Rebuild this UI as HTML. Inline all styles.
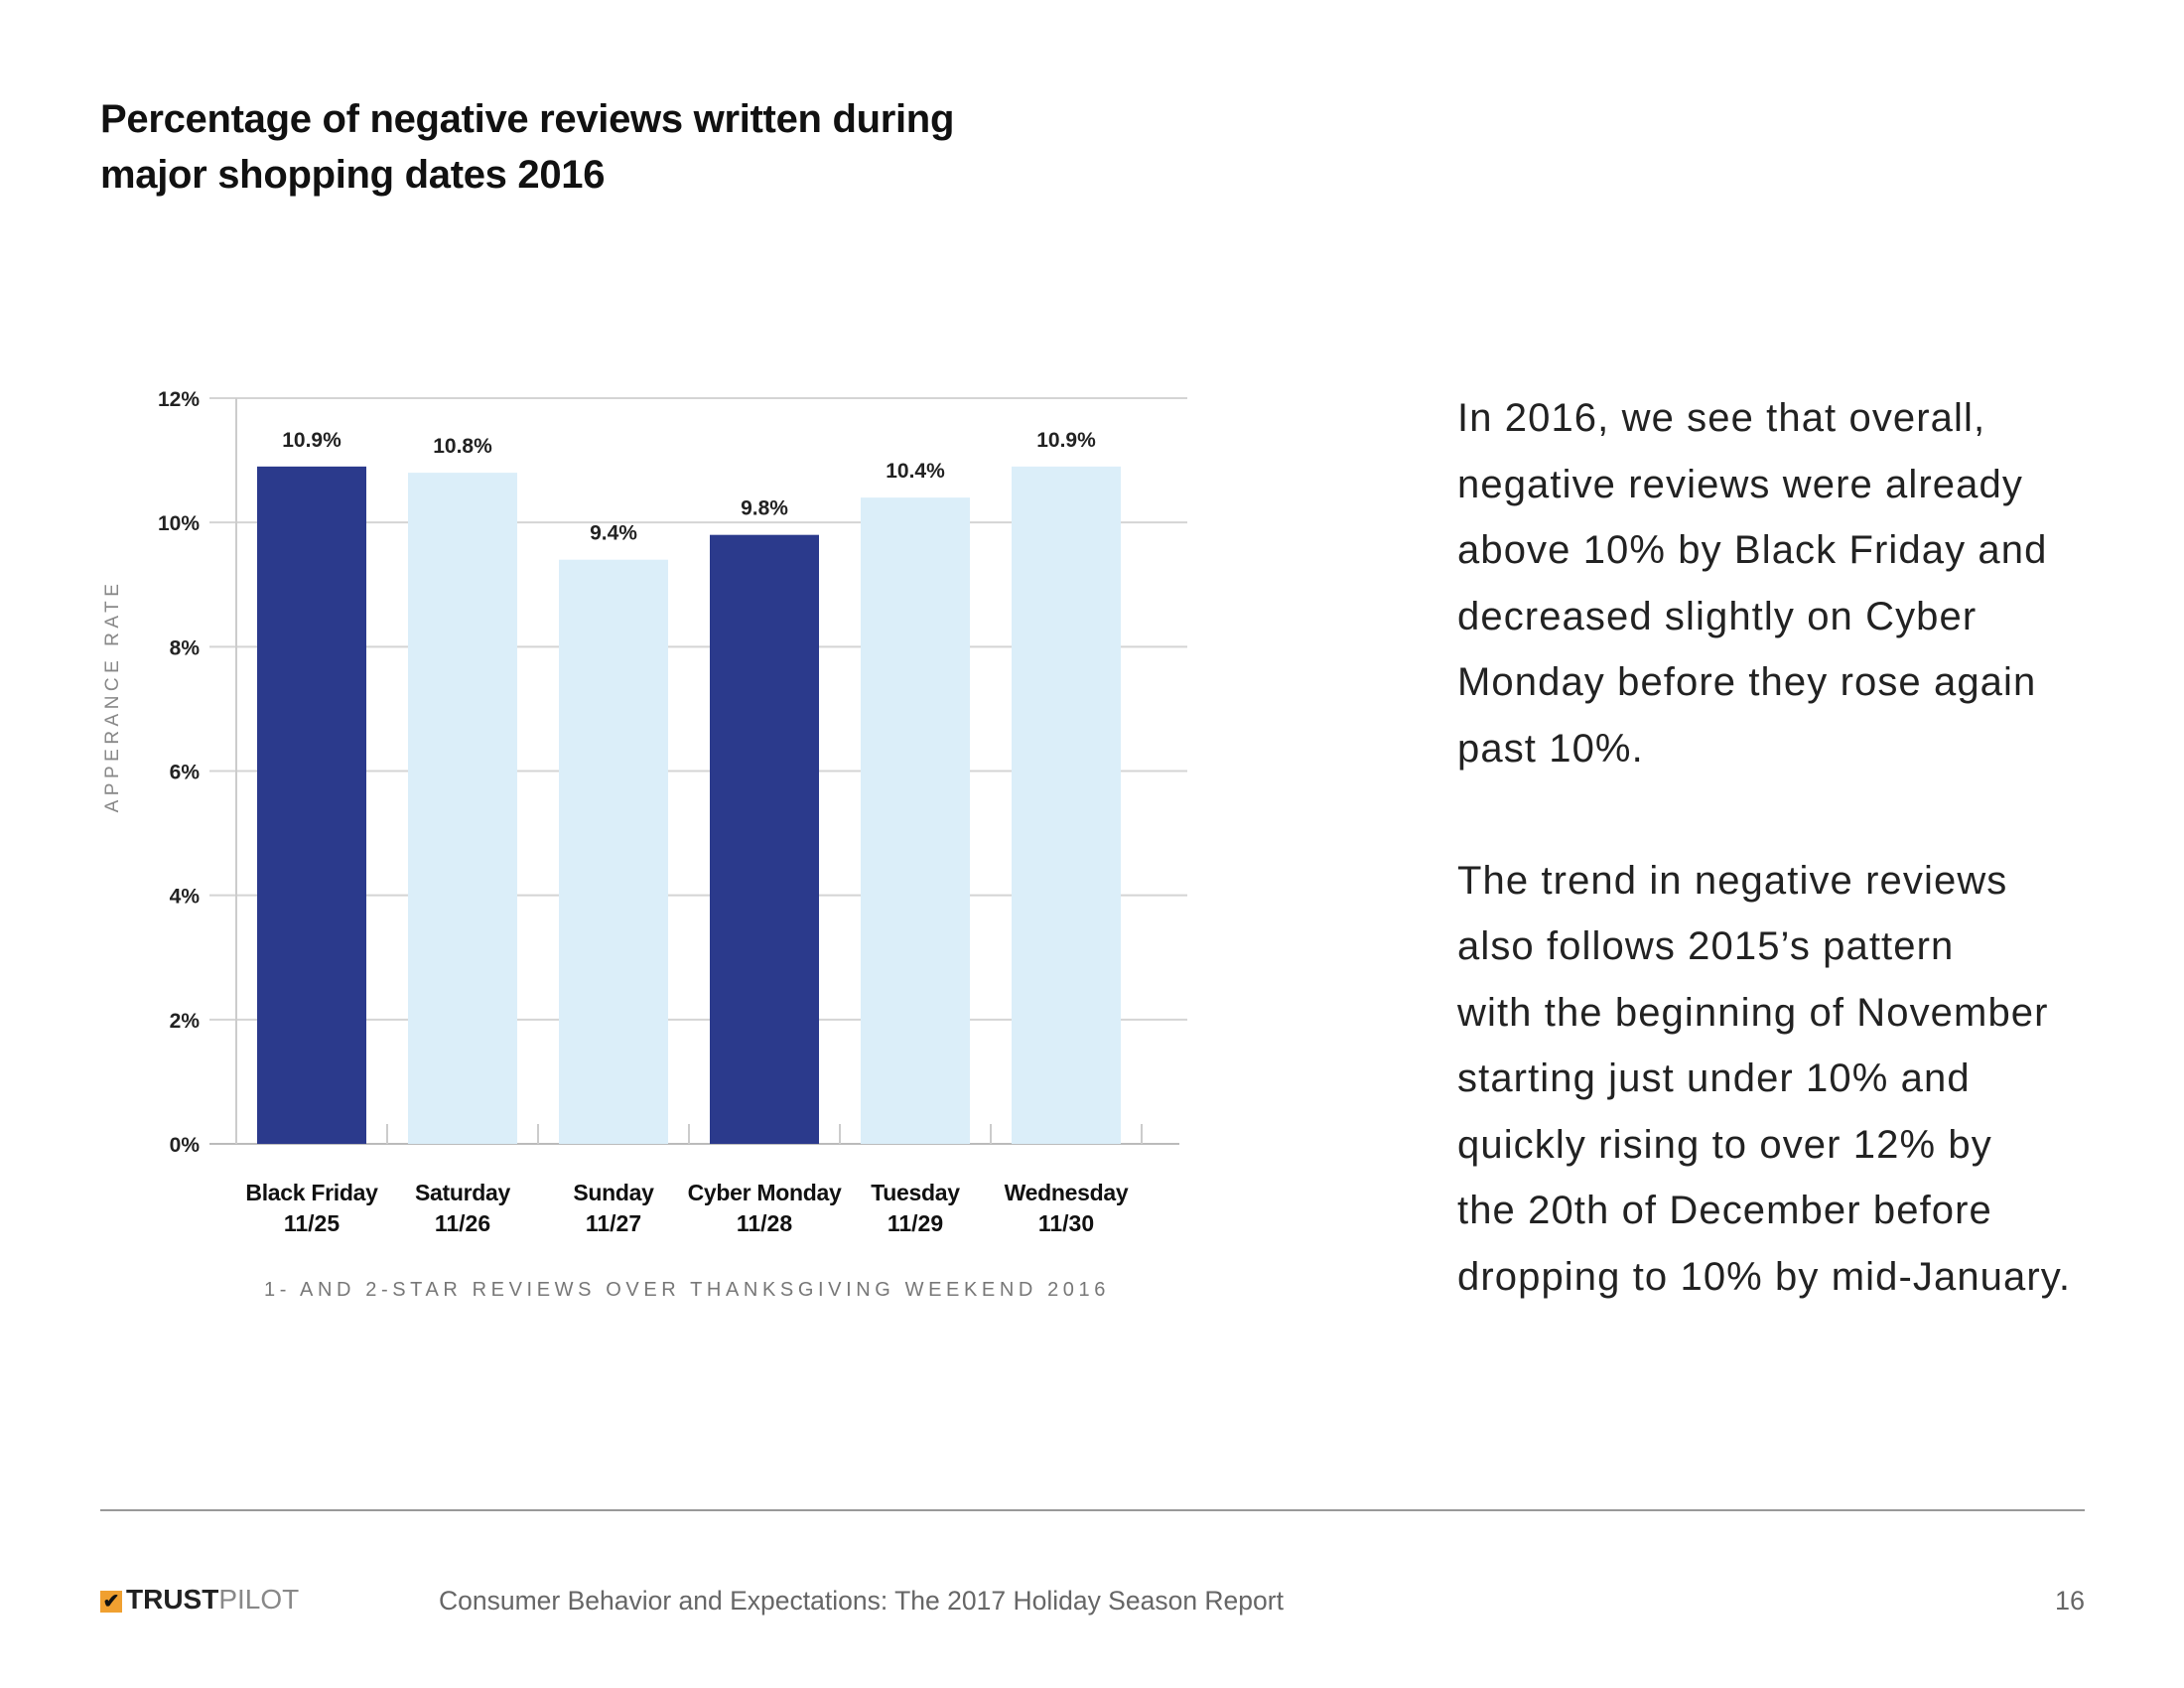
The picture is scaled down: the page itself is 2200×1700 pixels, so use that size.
<!DOCTYPE html>
<html><head><meta charset="utf-8"><style>
body{margin:0;background:#fff;font-family:"Liberation Sans",sans-serif}
#root{position:relative;width:2200px;height:1700px;overflow:hidden}
.t{position:absolute;white-space:nowrap}
</style></head><body><div id="root">
<div class="t" style="left:101px;top:92px;font-size:40px;font-weight:bold;line-height:56px;color:#111;letter-spacing:-0.3px">Percentage of negative reviews written during<br>major shopping dates 2016</div>
<svg id="chart" width="1300" height="1400" style="position:absolute;left:0;top:0"></svg>
<div class="t" style="left:1468px;top:388px;font-size:40px;line-height:66.5px;color:#222;letter-spacing:1.1px">In 2016, we see that overall,<br>negative reviews were already<br>above 10% by Black Friday and<br>decreased slightly on Cyber<br>Monday before they rose again<br>past 10%.<br><br>The trend in negative reviews<br>also follows 2015’s pattern<br>with the beginning of November<br>starting just under 10% and<br>quickly rising to over 12% by<br>the 20th of December before<br>dropping to 10% by mid-January.</div>
<div style="position:absolute;left:101px;top:1520px;width:1999px;height:2px;background:#999"></div>
<div class="t" style="left:101px;top:1595px;font-size:28px;font-weight:bold;color:#222"><span style="display:inline-block;width:22px;height:22px;background:#f0a030;color:#111;font-size:20px;line-height:22px;text-align:center;vertical-align:middle;margin-right:4px">✔</span>TRUST<span style="color:#888;font-weight:normal">PILOT</span></div>
<div class="t" style="left:442px;top:1597px;font-size:26.5px;color:#666">Consumer Behavior and Expectations: The 2017 Holiday Season Report</div>
<div class="t" style="right:100px;top:1597px;font-size:27px;color:#666">16</div>
</div>
<script>
const categories=["Black Friday","Saturday","Sunday","Cyber Monday","Tuesday","Wednesday"];
const dates=["11/25","11/26","11/27","11/28","11/29","11/30"];
const values=[10.9,10.8,9.4,9.8,10.4,10.9];
const highlighted=[true,false,false,true,false,false];
const yTicks=[0,2,4,6,8,10,12];
const svg=document.getElementById('chart');const NS='http://www.w3.org/2000/svg';
const y0=1152,y12=401,x0=238,step=152,bw=110,firstC=314;
const Y=v=>y0-(v/12)*(y0-y12);
const X=i=>firstC+i*step;
function mk(t,a,txt){const e=document.createElementNS(NS,t);for(const k in a)e.setAttribute(k,a[k]);if(txt!=null)e.textContent=txt;svg.appendChild(e);return e;}
yTicks.forEach(v=>{
 const l=mk('line',{x1:211,x2:v===0?1188:1196,y1:Y(v),y2:Y(v),stroke:v===0?'#bbb':'#d4d4d4','stroke-width':2});
 
 
 const t=mk('text',{x:201,y:Y(v)+8,'text-anchor':'end','font-size':21,'font-weight':'bold',fill:'#222'},v+'%');
 
 
});
const ax=mk('line',{x1:x0,x2:x0,y1:y12,y2:y0,stroke:'#ccc','stroke-width':2});


for(let i=1;i<=categories.length;i++){
 const tk=mk('line',{x1:X(i)-step/2,x2:X(i)-step/2,y1:y0-20,y2:y0,stroke:'#ccc','stroke-width':2});
 
 
}
values.forEach((v,i)=>{
 const r=mk('rect',{x:X(i)-bw/2,y:Y(v),width:bw,height:y0-Y(v),fill:highlighted[i]?'#2b3a8c':'#dbeef9'});
 
 
 const t=mk('text',{x:X(i),y:Y(v)-20,'text-anchor':'middle','font-size':21,'font-weight':'bold',fill:'#222'},v.toFixed(1)+'%');
 
 
 const c=mk('text',{x:X(i),y:1209,'text-anchor':'middle','font-size':23,'font-weight':'bold',fill:'#111','letter-spacing':-0.3},categories[i]);
 
 
 const d=mk('text',{x:X(i),y:1240,'text-anchor':'middle','font-size':23,'font-weight':'bold',fill:'#111'},dates[i]);
 
 
});
const cap=mk('text',{x:692,y:1305,'text-anchor':'middle','font-size':20,fill:'#777','letter-spacing':4.6},'1- AND 2-STAR REVIEWS OVER THANKSGIVING WEEKEND 2016');


const yt=mk('text',{x:0,y:0,'text-anchor':'middle','font-size':19,fill:'#888','letter-spacing':4.5,transform:'translate(119,701) rotate(-90)'},'APPERANCE RATE');


</script></body></html>
